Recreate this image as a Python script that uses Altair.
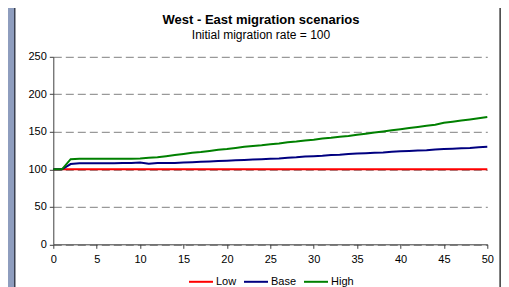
import altair as alt
import pandas as pd

years = list(range(0, 51))
low = [100, 100, 100, 100, 100, 100, 100, 100, 100, 100, 100,
       100, 100, 100, 100, 100, 100, 100, 100, 100, 100,
       100, 100, 100, 100, 100, 100, 100, 100, 100, 100,
       100, 100, 100, 100, 100, 100, 100, 100, 100, 100,
       100, 100, 100, 100, 100, 100, 100, 100, 100, 100]
base = [100, 100, 107, 108, 108, 108, 108, 108, 108.5, 108.5, 109,
        107.5, 108.5, 108.5, 108.5, 109, 109.5, 110, 110.5, 111, 111.5,
        112, 112.5, 113, 113.5, 114, 114.5, 115.5, 116, 117, 117.5,
        118, 119, 119.5, 120.5, 121, 121.5, 122, 122.5, 123.5, 124,
        124.5, 125, 125.5, 126.5, 127, 127.5, 128, 128.5, 129.5, 130]
high = [100, 100, 113.5, 114, 114, 114, 114, 114, 114, 114, 114.5,
        115.5, 116, 117.5, 119, 120.5, 122, 123, 124.5, 126, 127,
        128.5, 130, 131, 132, 133.3, 134.5, 136, 137, 138.5, 139.5,
        141, 142, 143.5, 144.5, 146, 147.5, 149, 150.5, 152, 153.5,
        155, 156.5, 158, 159.5, 162, 163.5, 165, 166.5, 168, 169.7]
series = ["Low", "Base", "High"]
colors = ["#FF0000", "#000080", "#008000"]
x_ticks = [0, 5, 10, 15, 20, 25, 30, 35, 40, 45, 50]
y_ticks = [0, 50, 100, 150, 200, 250]
title_text = "West - East migration scenarios"
subtitle_text = "Initial migration rate = 100"

rows = []
for name, vals in zip(series, [low, base, high]):
    for yr, v in zip(years, vals):
        rows.append({"year": yr, "value": v, "series": name})
df = pd.DataFrame(rows)

FONT = "Liberation Sans"
AX = "#404040"

lines = alt.Chart(df).mark_line(strokeWidth=2).encode(
    x=alt.X("year:Q", scale=alt.Scale(domain=[0, 50], nice=False),
            axis=alt.Axis(values=x_ticks, title=None, grid=False, tickSize=4,
                          labelPadding=5, labelFlush=False, labelOverlap=False,
                          domainColor=AX, tickColor=AX, labelColor="#000",
                          labelFontSize=11, labelFont=FONT)),
    y=alt.Y("value:Q", scale=alt.Scale(domain=[0, 250], nice=False),
            axis=alt.Axis(values=y_ticks, title=None, grid=True, gridDash=[8, 4],
                          gridColor="#808080", gridWidth=1, tickSize=4,
                          labelPadding=3, labelFlush=False, labelOverlap=False,
                          domainColor=AX, tickColor=AX, labelColor="#000",
                          labelFontSize=11, labelFont=FONT)),
    color=alt.Color("series:N", sort=series,
                    scale=alt.Scale(domain=series, range=colors),
                    legend=alt.Legend(orient="none", legendX=134.7, legendY=212,
                                      direction="horizontal", title=None,
                                      symbolType="stroke", symbolSize=576,
                                      symbolStrokeWidth=2, labelFontSize=11,
                                      labelFont=FONT, labelOffset=2,
                                      columnPadding=3, gridAlign="none",
                                      labelColor="#000")),
)

one = alt.Data(values=[{"k": 1}])
band = alt.Chart(one).mark_rect(color="#8E9DBE").encode(
    x=alt.value(-46), x2=alt.value(-39.3), y=alt.value(-50), y2=alt.value(240))
edge_l = alt.Chart(one).mark_rect(color="#3A4050").encode(
    x=alt.value(-39.3), x2=alt.value(-37.8), y=alt.value(-50), y2=alt.value(240))
edge_r = alt.Chart(one).mark_rect(color="#505050").encode(
    x=alt.value(446), x2=alt.value(448), y=alt.value(-50), y2=alt.value(240))
t1 = alt.Chart(one).mark_text(font=FONT, fontSize=13, fontWeight="bold",
                              align="center", baseline="alphabetic", color="#000").encode(
    x=alt.value(207.7), y=alt.value(-33.3), text=alt.value(title_text))
t2 = alt.Chart(one).mark_text(font=FONT, fontSize=12, align="center",
                              baseline="alphabetic", color="#000").encode(
    x=alt.value(207.7), y=alt.value(-17.5), text=alt.value(subtitle_text))

chart = alt.layer(band, edge_l, edge_r, t1, t2, lines).properties(
    width=434, height=187.5,
    padding={"left": 45.3, "top": 48.8, "right": 13.7, "bottom": 42.2},
    autosize="none", background="white",
).configure_view(stroke=None)

chart.save("out.html", embed_options={"renderer": "svg", "actions": False})
